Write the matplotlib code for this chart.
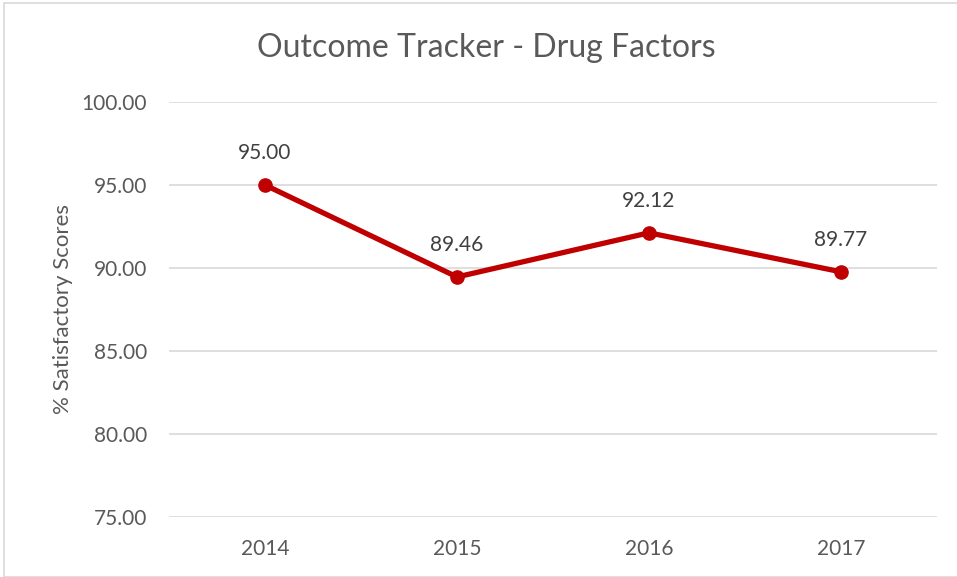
import matplotlib
matplotlib.use("Agg")
import matplotlib.pyplot as plt
from matplotlib.patches import Rectangle

years = ["2014", "2015", "2016", "2017"]
scores = [95.00, 89.46, 92.12, 89.77]
yticks = [75, 80, 85, 90, 95, 100]

W, H = 957, 577
plt.rcParams['font.family'] = ['Lato', 'DejaVu Sans']
fig = plt.figure(figsize=(W/100, H/100), dpi=100)

# chart border
fig.patches.append(Rectangle((4/W, 0), 1.2, 1 - 3/H, transform=fig.transFigure,
                             fill=False, edgecolor='#D9D9D9', linewidth=1.2))

left, right = 169, 937
top, bottom = 102, 517
ax = fig.add_axes([left/W, 1 - bottom/H, (right-left)/W, (bottom-top)/H])

x = list(range(len(years)))
ax.plot(x, scores, color='#C00000', linewidth=3.8, marker='o', markersize=9.5,
        solid_capstyle='round', zorder=3)
for xi, v in zip(x, scores):
    ax.annotate(f"{v:.2f}", (xi, v), xytext=(0, 16), textcoords='offset points',
                ha='center', va='bottom', fontsize=15, color='#404040')

ax.set_xlim(-0.5, len(years) - 0.5)
ax.set_ylim(75, 100)
ax.set_yticks(yticks)
ax.set_yticklabels([f"{t:.2f}" for t in yticks])
ax.set_xticks(x)
ax.set_xticklabels(years)
ax.tick_params(axis='both', length=0, labelsize=15, colors='#595959')
ax.tick_params(axis='y', pad=16)
ax.tick_params(axis='x', pad=16)
ax.grid(axis='y', color='#D9D9D9', linewidth=1.2)
ax.set_axisbelow(True)
for s in ax.spines.values():
    s.set_visible(False)

ax.set_ylabel("% Satisfactory Scores", fontsize=16, color='#595959', labelpad=6)
fig.text(486/W, 1 - 48/H, "Outcome Tracker - Drug Factors", ha='center', va='center',
         fontsize=23, color='#595959')

fig.savefig("out.png", dpi=100)
